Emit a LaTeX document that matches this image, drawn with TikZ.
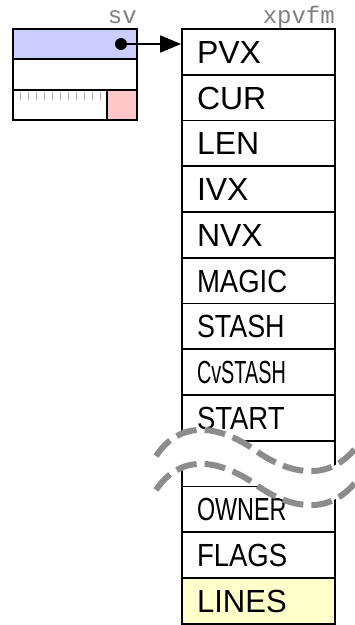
\documentclass[tikz,border=0pt]{standalone}
\usepackage{fontspec}
\setmainfont{Liberation Sans}
\setmonofont{Liberation Mono}
\usetikzlibrary{arrows.meta}
\definecolor{svblue}{HTML}{CCCCFF}
\definecolor{svpink}{HTML}{FFC8C8}
\definecolor{lineyellow}{HTML}{FFFFCC}
\definecolor{wavegray}{HTML}{8C8C8C}
\definecolor{labelgray}{HTML}{7F7F7F}
\definecolor{tickgray}{HTML}{B0B0B0}
\newcommand\sqz[2]{\scalebox{#1}[1]{#2}}
\begin{document}
\begin{tikzpicture}[x=1pt,y=-1pt,
  fieldrow/.style={draw=black, line width=1.8pt, minimum width=153pt, minimum height=45.75pt,
    inner xsep=15pt, inner ysep=0pt, text width=123pt, align=left,
    text height=23pt, text depth=0pt, font=\fontsize{32}{36}\selectfont},
  svrow/.style={draw=black, line width=1.8pt, minimum width=124pt, minimum height=30.33pt, inner sep=0pt},
  structlabel/.style={font=\ttfamily\fontsize{24}{26}\selectfont, text=labelgray, inner sep=0pt, anchor=base east},
  wave/.style={draw=wavegray, line width=6pt, dash pattern=on 21pt off 8pt},
  ticks/.style={draw=tickgray, line width=1pt},
]
\useasboundingbox (0,0) rectangle (355,625);

% sv structure
\node[svrow, fill=svblue] (sv1) at (75,44.17) {};
\node[svrow] (sv2) at (75,74.5) {};
\node[svrow] (sv3) at (75,104.83) {};
\foreach \k in {0,...,10} \draw[ticks] (20+8*\k,92) -- (20+8*\k,100);
\node[draw=black, line width=1.8pt, fill=svpink, minimum width=30pt, minimum height=30.33pt, inner sep=0pt] (svpink) at (122,104.83) {};

% xpvfm body rows
\node[fieldrow] (pvx) at (258.5,51.875) {PVX};
\node[fieldrow] (cur) at (258.5,97.625) {CUR};
\node[fieldrow] (len) at (258.5,143.375) {LEN};
\node[fieldrow] (ivx) at (258.5,189.125) {IVX};
\node[fieldrow] (nvx) at (258.5,234.875) {NVX};
\node[fieldrow] (magic) at (258.5,280.625) {\sqz{0.86}{MAGIC}};
\node[fieldrow] (stash) at (258.5,326.375) {\sqz{0.84}{STASH}};
\node[fieldrow] (cvstash) at (258.5,372.125) {\sqz{0.62}{CvSTASH}};
\node[fieldrow] (start) at (258.5,417.875) {\sqz{0.86}{START}};
\node[fieldrow] (blank) at (258.5,463.625) {};
\node[fieldrow] (owner) at (258.5,509.375) {\sqz{0.73}{OWNER}};
\node[fieldrow] (flags) at (258.5,555.125) {\sqz{0.86}{FLAGS}};
\node[fieldrow, fill=lineyellow] (lines) at (258.5,600.875) {\sqz{0.97}{LINES}};

% labels
\node[structlabel] (svlabel) at (137,23) {sv};
\node[structlabel] (xpvfmlabel) at (335,23) {xpvfm};

% pointer
\node[circle, fill=black, inner sep=0pt, minimum size=12pt] (dot) at (121,44) {};
\draw[line width=1.8pt, -{Triangle[length=21pt,width=17pt]}] (dot.center) -- (dot.center -| pvx.west);

% torn band
\fill[white] (156,456) .. controls (180,420) and (217,425) .. (252,448)
  .. controls (284,472) and (340,495) .. (372,420) -- (372,454)
  .. controls (340,529) and (284,506) .. (252,482)
  .. controls (217,459) and (180,454) .. (156,490) -- cycle;
\draw[wave] (156,456) .. controls (180,420) and (217,425) .. (252,448)
  .. controls (284,472) and (340,495) .. (372,420);
\draw[wave] (156,490) .. controls (180,454) and (217,459) .. (252,482)
  .. controls (284,506) and (340,529) .. (372,454);
\end{tikzpicture}
\end{document}
